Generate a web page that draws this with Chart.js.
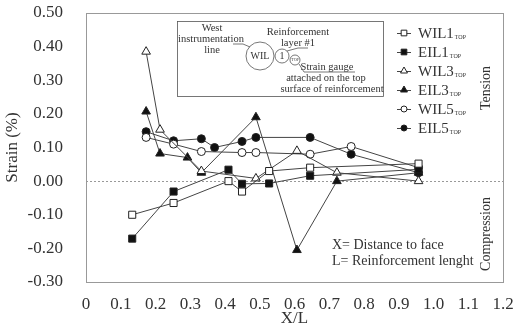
<!DOCTYPE html>
<html>
<head>
<meta charset="utf-8">
<script src="https://cdn.jsdelivr.net/npm/chart.js"></script>
<style>
  html, body { margin: 0; padding: 0; background: #fff; }
  #wrap { width: 513px; height: 328px; }
</style>
</head>
<body>
<div id="wrap"><canvas id="strainChart"></canvas></div>
<script>
// X/L positions and strain (%)
const wil1X = [0.133, 0.252, 0.41, 0.449, 0.527, 0.645, 0.957];
const wil1Y = [-0.10, -0.065, 0.0, -0.031, 0.03, 0.04, 0.052];
const eil1X = [0.133, 0.252, 0.41, 0.449, 0.527, 0.645, 0.957];
const eil1Y = [-0.171, -0.031, 0.034, -0.008, -0.007, 0.016, 0.035];
const wil3X = [0.173, 0.213, 0.332, 0.489, 0.607, 0.722, 0.957];
const wil3Y = [0.385, 0.153, 0.03, 0.008, 0.09, 0.025, 0.0];
const eil3X = [0.173, 0.213, 0.292, 0.332, 0.489, 0.607, 0.722, 0.957];
const eil3Y = [0.207, 0.082, 0.07, 0.025, 0.19, -0.205, 0.0, 0.025];
const wil5X = [0.173, 0.252, 0.332, 0.449, 0.489, 0.645, 0.763, 0.957];
const wil5Y = [0.13, 0.11, 0.088, 0.085, 0.085, 0.08, 0.103, 0.04];
const eil5X = [0.173, 0.252, 0.332, 0.37, 0.449, 0.489, 0.645, 0.763, 0.957];
const eil5Y = [0.147, 0.12, 0.126, 0.1, 0.118, 0.13, 0.13, 0.08, 0.025];

const seriesNames = ["WIL1", "EIL1", "WIL3", "EIL3", "WIL5", "EIL5"];
const yTickMin = -0.3, yTickMax = 0.5;
const xTickMin = 0, xTickMax = 1.2;

const serif = "'Liberation Serif', 'DejaVu Serif', serif";
const ink = "#333";

function pts(xs, ys) {
    return xs.map((x, i) => ({ x: x, y: ys[i] }));
}

// marker style per series: shape + filled?
const markers = [
    { shape: "rect", fill: false, r: 5 },
    { shape: "rect", fill: true, r: 5 },
    { shape: "triangle", fill: false, r: 5 },
    { shape: "triangle", fill: true, r: 5 },
    { shape: "circle", fill: false, r: 4 },
    { shape: "circle", fill: true, r: 4 }
];
const seriesData = [pts(wil1X, wil1Y), pts(eil1X, eil1Y), pts(wil3X, wil3Y),
                    pts(eil3X, eil3Y), pts(wil5X, wil5Y), pts(eil5X, eil5Y)];

const datasets = seriesNames.map((name, i) => ({
    label: name + "TOP",
    data: seriesData[i],
    showLine: true,
    borderColor: "#444",
    borderWidth: 1,
    pointStyle: markers[i].shape,
    pointRadius: markers[i].r,
    pointBackgroundColor: markers[i].fill ? "#111" : "#fff",
    pointBorderColor: "#222",
    pointBorderWidth: 1
}));

// small marker drawer for the legend
function drawMarker(ctx, m, x, y) {
    ctx.beginPath();
    if (m.shape === "rect") {
        const s = m.r * Math.SQRT1_2;
        ctx.rect(x - s, y - s, 2 * s, 2 * s);
    } else if (m.shape === "triangle") {
        const r = m.r;
        ctx.moveTo(x, y - r);
        ctx.lineTo(x + r * 0.866, y + r * 0.5);
        ctx.lineTo(x - r * 0.866, y + r * 0.5);
        ctx.closePath();
    } else {
        ctx.arc(x, y, m.r, 0, Math.PI * 2);
    }
    ctx.fillStyle = m.fill ? "#111" : "#fff";
    ctx.fill();
    ctx.strokeStyle = "#222";
    ctx.lineWidth = 1;
    ctx.stroke();
}

const decorPlugin = {
    id: "decor",
    beforeDatasetsDraw(chart) {
        const { ctx, chartArea: a, scales } = chart;
        ctx.save();
        // zero line
        const y0 = scales.y.getPixelForValue(0);
        ctx.strokeStyle = "#999";
        ctx.lineWidth = 1;
        ctx.setLineDash([2, 2]);
        ctx.beginPath();
        ctx.moveTo(a.left, Math.round(y0) + 0.5);
        ctx.lineTo(a.right, Math.round(y0) + 0.5);
        ctx.stroke();
        ctx.setLineDash([]);
        // frame
        ctx.strokeStyle = "#999";
        ctx.strokeRect(a.left + 0.5, a.top + 0.5, a.right - a.left, a.bottom - a.top);
        ctx.restore();
    },
    afterDraw(chart) {
        const ctx = chart.ctx;
        ctx.save();
        ctx.fillStyle = ink;
        ctx.strokeStyle = "#555";
        ctx.lineWidth = 0.8;

        // inset box
        ctx.fillStyle = "#fff";
        ctx.fillRect(177.5, 21.5, 206, 75);
        ctx.strokeRect(177.5, 21.5, 206, 75);
        ctx.fillStyle = ink;
        ctx.font = "10.5px " + serif;
        ctx.textAlign = "center";
        ctx.textBaseline = "middle";
        ctx.fillText("West", 212, 28);
        ctx.fillText("instrumentation", 211, 39);
        ctx.fillText("line", 212, 50);
        ctx.fillText("Reinforcement", 298, 32);
        ctx.fillText("layer #1", 298, 43);
        ctx.fillText("Strain gauge", 327, 67);
        ctx.fillText("attached on the top", 326, 78);
        ctx.fillText("surface of reinforcement", 332, 89);
        // circles
        ctx.beginPath(); ctx.arc(260, 56, 14, 0, Math.PI * 2); ctx.stroke();
        ctx.beginPath(); ctx.arc(282, 56, 7, 0, Math.PI * 2); ctx.stroke();
        ctx.beginPath(); ctx.arc(295, 60, 5, 0, Math.PI * 2); ctx.stroke();
        ctx.font = "10px " + serif;
        ctx.fillText("WIL", 260, 56);
        ctx.fillText("1", 282, 56);
        ctx.font = "4px " + serif;
        ctx.fillText("TOP", 295, 60);
        // leader lines
        ctx.beginPath();
        ctx.moveTo(233, 44); ctx.lineTo(243, 44); ctx.lineTo(250, 47);
        ctx.moveTo(298, 48); ctx.lineTo(308, 48);
        ctx.moveTo(298, 48); ctx.lineTo(287, 51);
        ctx.moveTo(299, 64); ctx.lineTo(304, 72); ctx.lineTo(355, 72);
        ctx.stroke();

        // legend
        const lx = 404, ly0 = 33, step = 19;
        markers.forEach((m, i) => {
            const y = ly0 + i * step;
            ctx.strokeStyle = "#444";
            ctx.lineWidth = 1;
            ctx.beginPath();
            ctx.moveTo(lx - 7, y + 0.5); ctx.lineTo(lx + 7, y + 0.5);
            ctx.stroke();
            drawMarker(ctx, Object.assign({}, m, { r: m.r - 1 }), lx, y);
            ctx.fillStyle = ink;
            ctx.textAlign = "left";
            ctx.textBaseline = "alphabetic";
            ctx.font = "15px " + serif;
            ctx.fillText(seriesNames[i], 418, y + 5);
            const w = ctx.measureText(seriesNames[i]).width;
            ctx.font = "6px " + serif;
            ctx.fillText("TOP", 418 + w + 1, y + 6);
        });

        // Tension / Compression
        ctx.font = "14px " + serif;
        ctx.textAlign = "center";
        ctx.textBaseline = "middle";
        [["Tension", 88], ["Compression", 234]].forEach(([t, y]) => {
            ctx.save();
            ctx.translate(486, y);
            ctx.rotate(-Math.PI / 2);
            ctx.fillText(t, 0, 0);
            ctx.restore();
        });

        // note
        ctx.textAlign = "left";
        ctx.fillText("X= Distance to face", 332, 245);
        ctx.fillText("L= Reinforcement lenght", 332, 261);
        ctx.restore();
    }
};

document.addEventListener("DOMContentLoaded", function () {
    const ctx = document.getElementById("strainChart").getContext("2d");
    new Chart(ctx, {
        type: "scatter",
        data: { datasets: datasets },
        options: {
            responsive: true,
            maintainAspectRatio: false,
            animation: false,
            layout: { padding: { top: 0, right: 0, left: 2, bottom: 0 }, autoPadding: false },
            scales: {
                x: {
                    type: "linear",
                    min: xTickMin,
                    max: xTickMax,
                    grid: { display: false, drawTicks: false },
                    border: { display: true, color: "#999" },
                    afterFit: s => { s.height = 46; s.paddingRight = 10; s.paddingLeft = 0; },
                    ticks: {
                        stepSize: 0.1,
                        color: ink,
                        font: { family: serif, size: 17 },
                        padding: 12,
                        maxRotation: 0,
                        autoSkip: false,
                        callback: v => (Math.abs(v) < 1e-9 ? "0" : v.toFixed(1))
                    },
                    title: {
                        display: true,
                        text: "X/L",
                        color: ink,
                        font: { family: serif, size: 17, lineHeight: 1 },
                        padding: { top: 0, bottom: 1 }
                    }
                },
                y: {
                    min: yTickMin,
                    max: yTickMax,
                    grid: { display: false, drawTicks: false },
                    border: { display: true, color: "#999" },
                    afterFit: s => { s.width = 84; s.paddingTop = 13; s.paddingBottom = 0; },
                    ticks: {
                        stepSize: 0.1,
                        color: ink,
                        font: { family: serif, size: 17 },
                        padding: 23,
                        callback: v => v.toFixed(2)
                    },
                    title: {
                        display: true,
                        text: "Strain (%)",
                        color: ink,
                        font: { family: serif, size: 17 },
                        padding: { top: 0, bottom: 0 }
                    }
                }
            },
            plugins: {
                legend: { display: false },
                tooltip: { enabled: false }
            }
        },
        plugins: [decorPlugin]
    });
});
</script>
</body>
</html>
